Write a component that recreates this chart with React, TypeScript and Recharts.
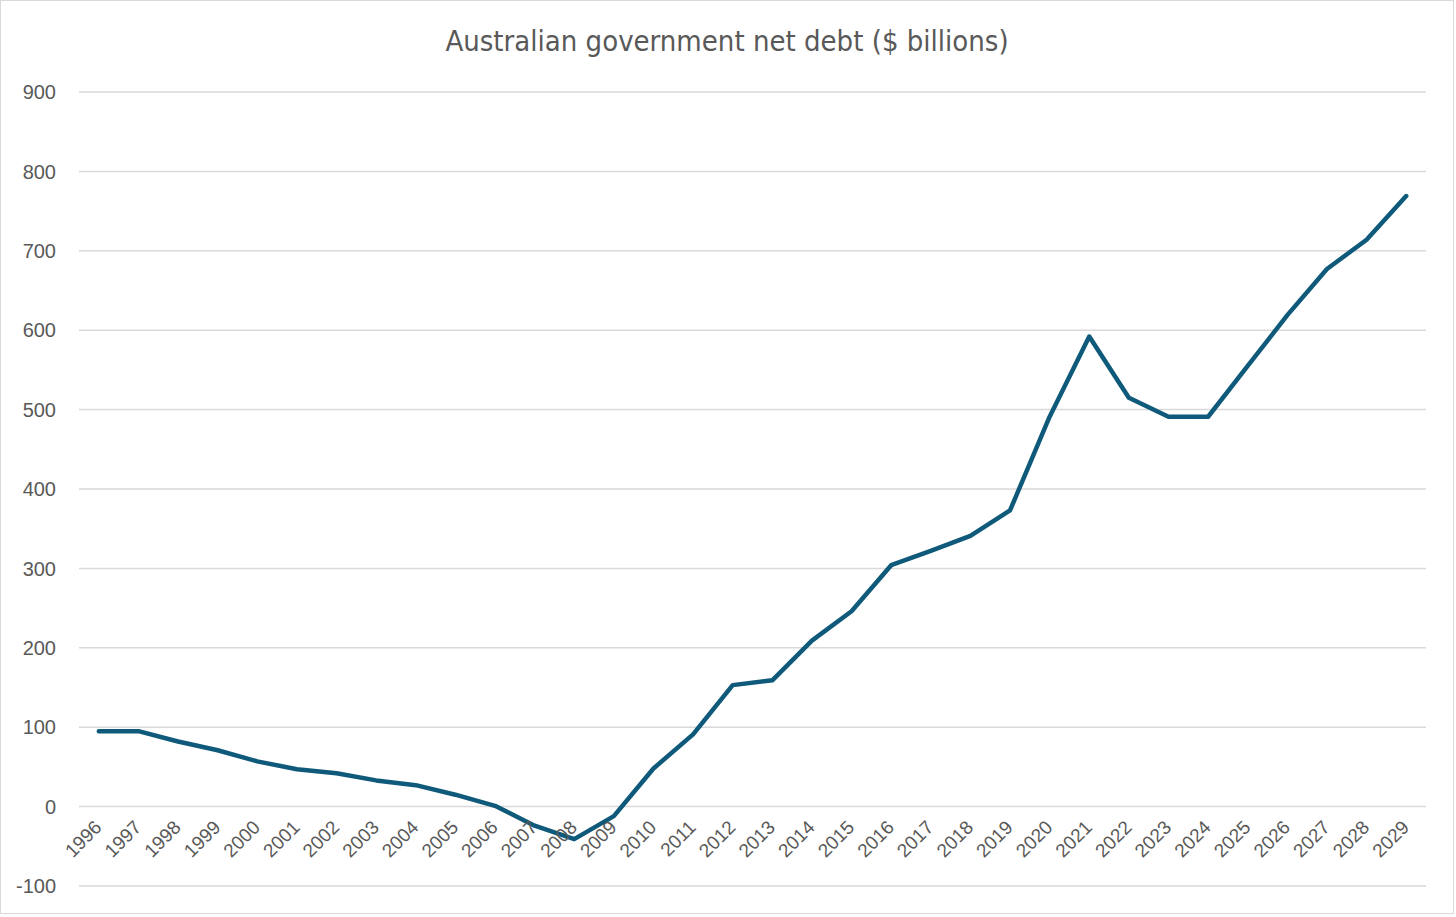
import { CartesianGrid, Line, LineChart, XAxis, YAxis } from 'recharts';

const YEARS = [
  '1996', '1997', '1998', '1999', '2000', '2001', '2002', '2003', '2004', '2005', '2006',
  '2007', '2008', '2009', '2010', '2011', '2012', '2013', '2014', '2015', '2016', '2017',
  '2018', '2019', '2020', '2021', '2022', '2023', '2024', '2025', '2026', '2027', '2028', '2029',
];

const NET_DEBT = [
  95, 95, 82, 71, 57, 47, 42, 33, 27, 15, 1,
  -24, -41, -12, 48, 91, 153, 159, 209, 246, 304, 322,
  341, 373, 491, 592, 515, 491, 491, 555, 619, 677, 714, 769,
];

const Y_TICKS = [-100, 0, 100, 200, 300, 400, 500, 600, 700, 800, 900];

const data = YEARS.map((year, i) => ({ year, debt: NET_DEBT[i] }));

const W = 1452;
const H = 912;
const TOP = 91;
const BOTTOM = 27;
const PLOT_H = H - TOP - BOTTOM;
// category axis crosses at 0, like Excel
const ZERO_SHIFT = (PLOT_H * 100) / 1000;
const HALF_BAND = 1347 / 34 / 2;

const TEXT = '#595959';
const FONT = '"Liberation Sans", Arial, sans-serif';

function YearTick({ x, y, payload }: any) {
  const ty = y - ZERO_SHIFT + 14;
  return (
    <text
      x={x + 4}
      y={ty}
      transform={`rotate(-45 ${x + 4} ${ty})`}
      textAnchor="end"
      fontSize={19}
      fill={TEXT}
      fontFamily={FONT}
    >
      {payload.value}
    </text>
  );
}

export default function App() {
  return (
    <div
      style={{
        position: 'absolute',
        left: 0,
        top: 0,
        width: W,
        height: H,
        border: '1px solid #d9d9d9',
        background: '#fff',
      }}
    >
      <div
        style={{
          position: 'absolute',
          top: 23,
          left: 0,
          width: W,
          textAlign: 'center',
          fontFamily: '"DejaVu Sans Condensed", "Liberation Sans", sans-serif',
          fontSize: 29,
          color: TEXT,
        }}
      >
        Australian government net debt ($ billions)
      </div>
      <LineChart
        width={W}
        height={H}
        data={data}
        margin={{ top: TOP, right: 27, bottom: 0, left: 0 }}
      >
        <CartesianGrid vertical={false} stroke="#d9d9d9" strokeWidth={1.5} />
        <XAxis
          dataKey="year"
          height={BOTTOM}
          interval={0}
          padding={{ left: HALF_BAND, right: HALF_BAND }}
          axisLine={false}
          tickLine={false}
          tick={<YearTick />}
        />
        <YAxis
          width={78}
          domain={[-100, 900]}
          ticks={Y_TICKS}
          interval={0}
          axisLine={false}
          tickLine={false}
          tickMargin={17}
          tick={{ fontSize: 20, fill: TEXT, fontFamily: FONT }}
        />
        <Line
          type="linear"
          dataKey="debt"
          stroke="#0f5a7a"
          strokeWidth={4.5}
          dot={false}
          strokeLinejoin="round"
          strokeLinecap="round"
          isAnimationActive={false}
        />
      </LineChart>
    </div>
  );
}
